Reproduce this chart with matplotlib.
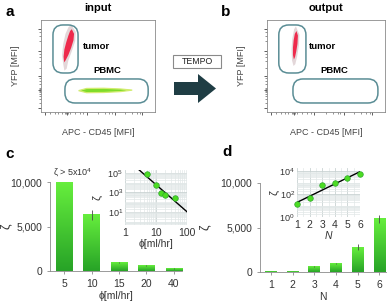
import numpy as np
import matplotlib
matplotlib.use('Agg')
import matplotlib.pyplot as plt
from matplotlib.patches import FancyBboxPatch, Polygon, Rectangle
from matplotlib.colors import LinearSegmentedColormap
from matplotlib.ticker import LogLocator, MultipleLocator, NullFormatter

plt.rcParams['font.family'] = ['Liberation Sans', 'DejaVu Sans']
plt.rcParams['mathtext.fontset'] = 'custom'
plt.rcParams['mathtext.rm'] = 'Liberation Sans'
plt.rcParams['mathtext.it'] = 'Liberation Sans:italic'
plt.rcParams['mathtext.bf'] = 'Liberation Sans:bold'

# ---- data ----
# panel c: flow rate vs zeta (first value is > 5x10^4, clipped in the bar plot)
flow_labels = ['5', '10', '15', '20', '40']
flow_rate = [5, 10, 15, 20, 40]
zeta_flow = [7e4, 6300, 950, 580, 260]
zeta_flow_err = [0, 600, 100, 60, 40]

# panel d: number of stages vs zeta
n_stages = [1, 2, 3, 4, 5, 6]
zeta_n = [13, 45, 650, 950, 2800, 6000]
zeta_n_err = [2, 8, 60, 90, 300, 450]

# flow cytometry populations, outlines (axes units 0..1)
tumor_in_x = [0.270, 0.290, 0.285, 0.265, 0.240, 0.215, 0.203, 0.198, 0.205, 0.222, 0.240, 0.255]
tumor_in_y = [0.900, 0.850, 0.780, 0.700, 0.620, 0.560, 0.540, 0.600, 0.680, 0.760, 0.830, 0.880]
tumor_in_halo_x = [0.265, 0.305, 0.300, 0.270, 0.240, 0.225, 0.205, 0.195, 0.185, 0.195, 0.215, 0.240]
tumor_in_halo_y = [0.950, 0.870, 0.770, 0.660, 0.560, 0.470, 0.450, 0.520, 0.620, 0.740, 0.850, 0.920]
pbmc_in_x = [0.33, 0.40, 0.55, 0.70, 0.80, 0.70, 0.55, 0.40]
pbmc_in_y = [0.232, 0.256, 0.258, 0.250, 0.238, 0.222, 0.212, 0.210]

tumor_out_x = [0.250, 0.262, 0.258, 0.248, 0.238, 0.228, 0.220, 0.220, 0.226, 0.236]
tumor_out_y = [0.880, 0.830, 0.740, 0.660, 0.600, 0.570, 0.620, 0.700, 0.780, 0.850]
tumor_out_halo_x = [0.245, 0.275, 0.270, 0.255, 0.240, 0.225, 0.212, 0.208, 0.215, 0.230]
tumor_out_halo_y = [0.930, 0.840, 0.720, 0.600, 0.520, 0.500, 0.560, 0.680, 0.800, 0.900]

W, H = 392, 306


def box(l, t, r, b):
    # pixel box -> figure fraction
    return [l / W, 1 - b / H, (r - l) / W, (b - t) / H]


def fx(x):
    return x / W


def fy(y):
    return 1 - y / H


fig = plt.figure(figsize=(W / 100, H / 100), dpi=100)

GATE = '#5a8d95'
AX = '#8a8a8a'
TXT = '#333333'


def flow_axes(rect, title):
    ax = fig.add_axes(rect)
    ax.set_xlim(0, 1)
    ax.set_ylim(0, 1)
    for s in ax.spines.values():
        s.set_color(AX)
        s.set_linewidth(0.6)
    ax.set_xticks([0.035, 0.23, 0.40, 0.65, 0.89])
    ax.set_yticks([0.04, 0.24, 0.39, 0.66, 0.90])
    ax.set_xticks([0.08, 0.12, 0.15, 0.18, 0.21, 0.22, 0.24, 0.25, 0.30, 0.34, 0.37,
                   0.50, 0.56, 0.60, 0.62, 0.74, 0.80, 0.84, 0.87], minor=True)
    ax.set_yticks([0.10, 0.14, 0.17, 0.20, 0.22, 0.23, 0.25, 0.26, 0.30, 0.34, 0.37,
                   0.48, 0.55, 0.60, 0.63, 0.77, 0.83, 0.87], minor=True)
    ax.tick_params(which='major', length=2.2, width=0.6, color='#444', direction='out',
                   labelbottom=False, labelleft=False)
    ax.tick_params(which='minor', length=1.2, width=0.5, color='#666', direction='out')
    ax.set_xlabel('APC - CD45 [MFI]', fontsize=6.5, color='#444')
    ax.set_ylabel('YFP [MFI]', fontsize=6.5, color='#444')
    ax.xaxis.set_label_coords(0.5, -0.17)
    ax.yaxis.set_label_coords(-0.18, 0.5)
    ax.text(0.5, 1.13, title, transform=ax.transAxes, ha='center', va='center',
            fontsize=8, fontweight='bold')
    return ax


def gate(ax, x0, y0, w, h, r_px=10):
    bb = ax.get_position()
    wpx, hpx = bb.width * W, bb.height * H
    asp = wpx / hpx
    p = FancyBboxPatch((x0, y0), w, h,
                       boxstyle='round,pad=0,rounding_size=%f' % (r_px / wpx),
                       mutation_aspect=asp, fc='none', ec=GATE, lw=1.1, zorder=4)
    ax.add_patch(p)


# ---- panel a ----
ax_a = flow_axes(box(41, 20, 155, 112), 'input')
ax_a.fill(tumor_in_halo_x, tumor_in_halo_y, color='#d8c6ca', alpha=0.7, lw=0, zorder=2)
ax_a.fill(tumor_in_x, tumor_in_y, color='#ee2a4c', lw=0, zorder=3)
ax_a.fill(pbmc_in_x, pbmc_in_y, color='#7fdc2a', ec='#d3ec70', lw=0.9, zorder=3)
gate(ax_a, 0.105, 0.424, 0.22, 0.522)
gate(ax_a, 0.21, 0.098, 0.73, 0.261)
ax_a.text(0.49, 0.71, 'tumor', fontsize=6.8, fontweight='bold', ha='center', va='center')
ax_a.text(0.58, 0.45, 'PBMC', fontsize=6.8, fontweight='bold', ha='center', va='center')

# ---- panel b ----
ax_b = flow_axes(box(267, 20, 385, 112), 'output')
ax_b.fill(tumor_out_halo_x, tumor_out_halo_y, color='#d8c6ca', alpha=0.7, lw=0, zorder=2)
ax_b.fill(tumor_out_x, tumor_out_y, color='#ee2a4c', lw=0, zorder=3)
gate(ax_b, 0.10, 0.424, 0.23, 0.522)
gate(ax_b, 0.22, 0.098, 0.72, 0.261)
ax_b.text(0.47, 0.71, 'tumor', fontsize=6.8, fontweight='bold', ha='center', va='center')
ax_b.text(0.57, 0.45, 'PBMC', fontsize=6.8, fontweight='bold', ha='center', va='center')

# TEMPO box and arrow
fig.patches.append(Rectangle((fx(173), fy(68)), fx(221) - fx(173), fy(55) - fy(68),
                             transform=fig.transFigure, fc='white', ec='#8a8a8a', lw=0.8))
fig.text(fx(197), fy(61.5), 'TEMPO', fontsize=6.3, ha='center', va='center', color='#222')
arrow_px = [(174, 82), (198, 82), (198, 74), (216, 88.5), (198, 103), (198, 95), (174, 95)]
fig.patches.append(Polygon([(fx(x), fy(y)) for x, y in arrow_px], closed=True,
                           transform=fig.transFigure, fc='#1f3d44', ec='none'))

# ---- bar panels ----
green = LinearSegmentedColormap.from_list('g', ['#27a327', '#66ee3d'])


def bar_panel(rect, labels, vals, errs, width, xlim, xlabel, ylab_x):
    ax = fig.add_axes(rect)
    x = np.arange(len(vals))
    bars = ax.bar(x, vals, width=width, color='none', zorder=1)
    grad = np.linspace(0, 1, 64).reshape(-1, 1)
    for b in bars:
        h = min(b.get_height(), 10000)
        ax.imshow(grad, extent=(b.get_x(), b.get_x() + b.get_width(), 0, h),
                  origin='lower', aspect='auto', cmap=green, zorder=1)
    ax.errorbar(x, vals, yerr=errs, fmt='none', ecolor='#4a4a4a', elinewidth=0.6,
                capsize=0, zorder=3)
    ax.set_xlim(*xlim)
    ax.set_ylim(0, 10000)
    ax.set_xticks(x)
    ax.set_xticklabels(labels)
    ax.set_yticks([0, 5000, 10000])
    ax.set_yticklabels(['0', '5,000', '10,000'])
    for s in ['top', 'right']:
        ax.spines[s].set_visible(False)
    for s in ['left', 'bottom']:
        ax.spines[s].set_color(AX)
        ax.spines[s].set_linewidth(0.6)
    ax.tick_params(length=2.5, width=0.6, color=AX, labelsize=7.5, labelcolor=TXT, pad=3)
    ax.set_xlabel(xlabel, fontsize=7.5, color=TXT, labelpad=2)
    ax.set_ylabel('ζ', fontsize=9, color=TXT)
    ax.yaxis.set_label_coords(ylab_x, 0.5)
    return ax


ax_c = bar_panel(box(50, 182, 182, 271), flow_labels, zeta_flow, zeta_flow_err,
                 0.6, (-0.52, 4.3), 'ϕ[ml/hr]', -0.29)
ax_c.text(0.3, 10350, r'ζ > 5x10$^4$', fontsize=6.5, color=TXT, ha='center', va='bottom')

ax_d = bar_panel(box(260, 183, 386, 272), [str(n) for n in n_stages], zeta_n, zeta_n_err,
                 0.55, (-0.5, 5.3), 'N', -0.39)


def inset_style(ax):
    for s in ax.spines.values():
        s.set_visible(False)
    ax.grid(which='major', color='#c9d2d2', lw=0.6)
    ax.grid(which='minor', color='#e1e7e7', lw=0.5)
    ax.set_axisbelow(True)
    ax.tick_params(which='both', length=0, labelcolor=TXT)
    ax.tick_params(axis='x', labelsize=7.5, pad=2)
    ax.tick_params(axis='y', labelsize=6.5, pad=1.5)


# ---- inset c ----
ax_ci = fig.add_axes(box(125, 170, 187, 225))
ax_ci.set_xscale('log')
ax_ci.set_yscale('log')
fit_c = np.polyfit(np.log10(flow_rate), np.log10(zeta_flow), 1)
xs = np.logspace(0, 2, 30)
ax_ci.plot(xs, 10 ** np.polyval(fit_c, np.log10(xs)), color='black', lw=1, zorder=2)
ax_ci.plot(flow_rate, zeta_flow, 'o', ms=4, mfc='#4cdc22', mec='#2fa82f', mew=0.5,
           zorder=3, clip_on=False)
ax_ci.set_xlim(1, 100)
ax_ci.set_ylim(10 ** -0.35, 10 ** 5.3)
ax_ci.set_xticks([1, 10, 100])
ax_ci.set_xticklabels(['1', '10', '100'])
ax_ci.set_yticks([10, 1e3, 1e5])
ax_ci.set_yticklabels([r'$10^1$', r'$10^3$', r'$10^5$'])
ax_ci.xaxis.set_minor_locator(LogLocator(base=10, subs=np.arange(1, 10), numticks=20))
ax_ci.yaxis.set_minor_locator(LogLocator(base=10, subs=np.arange(1, 10), numticks=20))
ax_ci.xaxis.set_minor_formatter(NullFormatter())
ax_ci.yaxis.set_minor_formatter(NullFormatter())
inset_style(ax_ci)
ax_ci.set_xlabel('ϕ[ml/hr]', fontsize=7.5, color=TXT, labelpad=1)
ax_ci.set_ylabel('ζ', fontsize=8, color=TXT)
ax_ci.yaxis.set_label_coords(-0.37, 0.5)

# ---- inset d ----
ax_di = fig.add_axes(box(297, 168, 360, 217))
ax_di.set_yscale('log')
fit_d = np.polyfit(n_stages, np.log10(zeta_n), 1)
ns = np.linspace(1, 6, 20)
ax_di.plot(ns, 10 ** np.polyval(fit_d, ns), color='black', lw=1, zorder=2)
ax_di.plot(n_stages, zeta_n, 'o', ms=4, mfc='#4cdc22', mec='#2fa82f', mew=0.5,
           zorder=3, clip_on=False)
ax_di.set_xlim(1, 6)
ax_di.set_ylim(1, 10 ** 4.3)
ax_di.set_xticks(n_stages)
ax_di.set_yticks([1, 100, 1e4])
ax_di.set_yticklabels([r'$10^0$', r'$10^2$', r'$10^4$'])
ax_di.xaxis.set_minor_locator(MultipleLocator(0.5))
ax_di.yaxis.set_minor_locator(LogLocator(base=10, subs=np.arange(1, 10), numticks=20))
ax_di.yaxis.set_minor_formatter(NullFormatter())
inset_style(ax_di)
ax_di.set_xlabel('N', fontsize=7.5, color=TXT, labelpad=1, style='italic')
ax_di.set_ylabel('ζ', fontsize=8, color=TXT)
ax_di.yaxis.set_label_coords(-0.27, 0.5)

# panel letters
for letter, (px, py) in zip('abcd', [(10, 12), (226, 12), (10, 154), (227, 152)]):
    fig.text(fx(px), fy(py), letter, fontsize=11, fontweight='bold', ha='center', va='center')

fig.savefig('out.png', dpi=100)
